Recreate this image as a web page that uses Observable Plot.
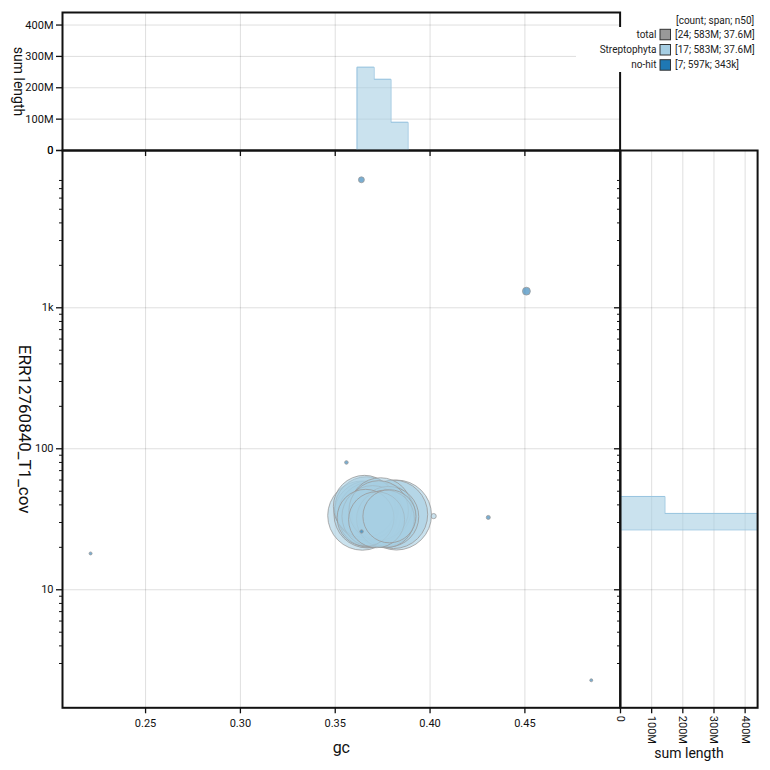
<!DOCTYPE html>
<html>
<head>
<meta charset="utf-8">
<script src="https://cdn.jsdelivr.net/npm/d3@7"></script>
<script src="https://cdn.jsdelivr.net/npm/@observablehq/plot@0.6"></script>
<style>
  body { margin: 0; background: #fff; font-family: Roboto, sans-serif; }
  #chart { position: relative; width: 770px; height: 770px; overflow: hidden; }
  #chart svg { position: absolute; overflow: visible; }
</style>
</head>
<body>
<div id="chart"></div>
<script>
// ---------------- data ----------------
const taxa = ["Streptophyta", "no-hit"];
const taxonColors = ["#a6cee3", "#1f78b4"];

const contigTaxon = [
  "Streptophyta","Streptophyta","Streptophyta","Streptophyta","Streptophyta","Streptophyta",
  "Streptophyta","Streptophyta","Streptophyta","Streptophyta","Streptophyta","Streptophyta",
  "Streptophyta","Streptophyta","Streptophyta","Streptophyta","Streptophyta",
  "no-hit","no-hit","no-hit","no-hit","no-hit","no-hit","no-hit"
];
const contigGc = [
  0.3643, 0.3670, 0.3686, 0.3665, 0.3654, 0.3697, 0.3660,
  0.3755, 0.3739, 0.3781, 0.3729, 0.3765, 0.3718, 0.3786,
  0.3823, 0.3807, 0.4019,
  0.4508, 0.3638, 0.4307, 0.3559, 0.3639, 0.2210, 0.4850
];
const contigCov = [
  33.6, 34.2, 34.0, 37.7, 39.0, 33.2, 32.4,
  33.8, 37.5, 33.0, 36.5, 31.8, 31.4, 33.2,
  33.9, 34.3, 33.3,
  1312, 8090, 32.6, 80.0, 25.9, 18.1, 2.28
];
const contigLength = [
  45.0e6, 42.0e6, 40.0e6, 37.6e6, 36.0e6, 35.0e6, 30.0e6,
  38.0e6, 36.0e6, 34.0e6, 33.0e6, 31.0e6, 29.0e6, 26.0e6,
  46.0e6, 44.0e6, 0.1e6,
  343000, 150000, 40000, 25000, 20000, 10000, 9000
];

// histogram bin edges
const gcBinEdges = [0.3615, 0.3705, 0.3794, 0.3884];
const covBinEdges = [26.6, 34.8, 45.9];

// axes
const gcDomain = [0.2062, 0.5002];
const covDomain = [1.455, 13050];
const sumDomain = [0, 440e6];
const gcTicks = [0.25, 0.30, 0.35, 0.40, 0.45];
const gcTickLabels = ["0.25", "0.30", "0.35", "0.40", "0.45"];
const covTicks = [10, 100, 1000, 13050];
const covTickLabels = ["10", "100", "1k", "0"];
const covGrid = [10, 100, 1000];
const covMinorTicks = [3,4,5,6,7,8,9, 20,30,40,50,60,70,80,90, 200,300,400,500,600,700,800,900, 2000,3000,4000,5000,6000,7000,8000];
const sumTicks = [0, 100e6, 200e6, 300e6, 400e6];
const sumTickLabels = ["0", "100M", "200M", "300M", "400M"];

const xLabel = "gc";
const yLabel = "ERR12760840_T1_cov";
const histLabel = "sum length";

// legend
const legendHeader = "[count; span; n50]";
const legendNames = ["total", "Streptophyta", "no-hit"];
const legendColors = ["#999999", "#a6cee3", "#1f78b4"];
const legendValues = ["[24; 583M; 37.6M]", "[17; 583M; 37.6M]", "[7; 597k; 343k]"];

(function () {
  const contigs = contigGc.map((gc, i) => ({
    gc, cov: contigCov[i], length: contigLength[i], taxon: contigTaxon[i]
  }));
  const strepto = contigs.filter(d => d.taxon === "Streptophyta");

  function binSums(rows, key, edges) {
    const out = [];
    for (let i = 0; i < edges.length - 1; i++) {
      const lo = edges[i], hi = edges[i + 1];
      out.push({lo, hi, sum: d3.sum(rows.filter(d => d[key] >= lo && d[key] < hi), d => d.length)});
    }
    return out;
  }
  function steps(bins) {
    const pts = [{pos: bins[0].lo, val: 0}];
    for (const b of bins) { pts.push({pos: b.lo, val: b.sum}); pts.push({pos: b.hi, val: b.sum}); }
    pts.push({pos: bins[bins.length - 1].hi, val: 0});
    return pts;
  }
  const gcSteps = steps(binSums(strepto, "gc", gcBinEdges));
  const covSteps = steps(binSums(strepto, "cov", covBinEdges));

  const lab = (vals, labels) => { const m = new Map(vals.map((v, i) => [v, labels[i]])); return d => m.get(d); };
  const none = () => "";
  const gridStyle = {stroke: "#000", strokeOpacity: 0.13};
  const baseStyle = {fontFamily: "Roboto, sans-serif", fontSize: "11px", background: "none", overflow: "visible", color: "#111"};
  const histFill = "#a6cee3", histStroke = "#98c4df";
  const frameMark = () => Plot.frame({stroke: "#111", strokeWidth: 2});

  const chart = document.getElementById("chart");
  function place(svg, left, topPx) {
    svg.style.left = left + "px"; svg.style.top = topPx + "px"; chart.appendChild(svg);
  }

  // main scatter
  const mainPlot = Plot.plot({
    width: 630, height: 630,
    marginLeft: 62, marginRight: 10.4, marginTop: 10, marginBottom: 62.7,
    style: baseStyle,
    x: {domain: gcDomain},
    y: {type: "log", domain: covDomain},
    r: {type: "sqrt", domain: [0, 46e6], range: [1, 35]},
    color: {domain: taxa, range: taxonColors},
    marks: [
      Plot.gridX(gcTicks, gridStyle),
      Plot.gridY(covGrid, gridStyle),
      Plot.dot(contigs, {x: "gc", y: "cov", r: "length", fill: "taxon", fillOpacity: 0.6, stroke: "#999", strokeWidth: 0.8}),
      Plot.axisX(gcTicks, {anchor: "bottom", tickSize: 6, tickPadding: 5, tickFormat: lab(gcTicks, gcTickLabels), label: null, strokeWidth: 1.3}),
      Plot.axisY(covTicks, {anchor: "left", tickSize: 6, tickFormat: lab(covTicks, covTickLabels), label: null, strokeWidth: 1.3}),
      Plot.axisY(covMinorTicks, {anchor: "left", tickSize: 3, tickFormat: none, label: null, strokeWidth: 1}),
      Plot.text([xLabel], {text: d => d, frameAnchor: "bottom", textAnchor: "middle", lineAnchor: "middle", dy: 40, fontSize: 16}),
      Plot.text([yLabel], {text: d => d, frameAnchor: "left", textAnchor: "middle", lineAnchor: "middle", rotate: 90, dx: -38, fontSize: 17}),
      frameMark()
    ]
  });
  place(mainPlot, 0, 140);

  // top histogram
  const topPlot = Plot.plot({
    width: 630, height: 160,
    marginLeft: 62, marginRight: 10.4, marginTop: 12, marginBottom: 10,
    style: baseStyle,
    x: {domain: gcDomain},
    y: {domain: sumDomain},
    marks: [
      Plot.gridX(gcTicks, gridStyle),
      Plot.gridY(sumTicks.slice(1), gridStyle),
      Plot.area(gcSteps, {x1: "pos", y1: 0, y2: "val", fill: histFill, fillOpacity: 0.6}),
      Plot.line(gcSteps, {x: "pos", y: "val", stroke: histStroke, strokeWidth: 1}),
      Plot.axisX(gcTicks, {anchor: "bottom", tickSize: 6, tickFormat: none, label: null, strokeWidth: 1.3}),
      Plot.axisY(sumTicks, {anchor: "left", tickSize: 6, tickFormat: lab(sumTicks, sumTickLabels), label: null, strokeWidth: 1.3}),
      Plot.text([histLabel], {text: d => d, frameAnchor: "left", textAnchor: "middle", lineAnchor: "middle", rotate: 90, dx: -44.5, fontSize: 14}),
      frameMark()
    ]
  });
  place(topPlot, 0, 0);

  // right histogram
  const rightPlot = Plot.plot({
    width: 161, height: 630,
    marginLeft: 10, marginRight: 13.9, marginTop: 10, marginBottom: 62.7,
    style: baseStyle,
    x: {domain: sumDomain},
    y: {type: "log", domain: covDomain},
    marks: [
      Plot.gridX(sumTicks.slice(1), gridStyle),
      Plot.gridY(covGrid, gridStyle),
      Plot.area(covSteps, {y1: "pos", x1: 0, x2: "val", fill: histFill, fillOpacity: 0.6}),
      Plot.line(covSteps, {y: "pos", x: "val", stroke: histStroke, strokeWidth: 1}),
      Plot.axisX(sumTicks, {anchor: "bottom", tickSize: 6, tickPadding: 2, tickRotate: 90, tickFormat: lab(sumTicks, sumTickLabels), label: null, strokeWidth: 1.3}),
      Plot.axisY(covTicks, {anchor: "left", tickSize: 6, tickFormat: none, label: null, strokeWidth: 1.3}),
      Plot.axisY(covMinorTicks, {anchor: "left", tickSize: 3, tickFormat: none, label: null, strokeWidth: 1}),
      Plot.text([histLabel], {text: d => d, frameAnchor: "bottom", textAnchor: "middle", lineAnchor: "middle", dy: 46, fontSize: 14}),
      frameMark()
    ]
  });
  place(rightPlot, 609.6, 140);

  // legend
  const leg = d3.create("svg").attr("width", 770).attr("height", 80)
    .style("font-family", "Roboto, sans-serif").style("font-size", "10px");
  leg.append("rect").attr("x", 576).attr("y", 27).attr("width", 194).attr("height", 45).attr("fill", "#fff");
  leg.append("text").attr("x", 676).attr("y", 20).attr("dy", "0.35em").attr("fill", "#222").text(legendHeader);
  legendNames.forEach((name, i) => {
    const cy = 34.3 + i * 15.2;
    leg.append("text").attr("x", 656.5).attr("y", cy).attr("dy", "0.35em").attr("text-anchor", "end").attr("fill", "#222").text(name);
    leg.append("rect").attr("x", 660).attr("y", cy - 5).attr("width", 10.5).attr("height", 10.5)
      .attr("fill", legendColors[i]).attr("stroke", "#333").attr("stroke-width", 1);
    leg.append("text").attr("x", 675).attr("y", cy).attr("dy", "0.35em").attr("fill", "#222").text(legendValues[i]);
  });
  place(leg.node(), 0, 0);
})();
</script>
</body>
</html>
